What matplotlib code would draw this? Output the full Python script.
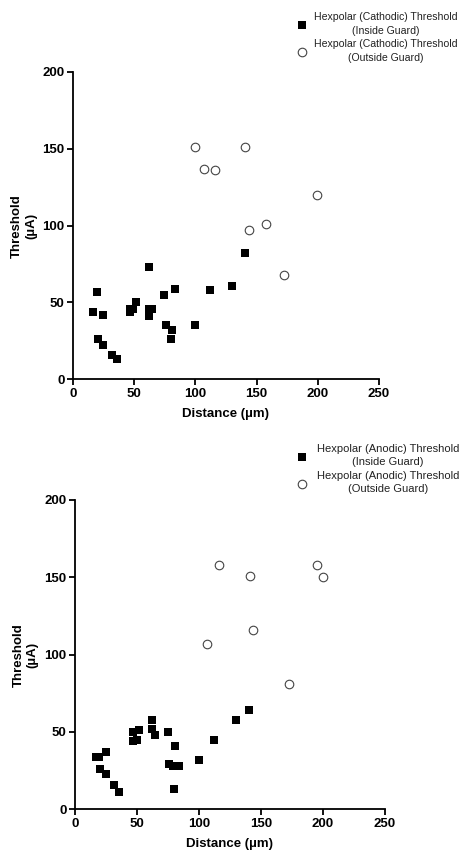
import numpy as np
import matplotlib.pyplot as plt

plt.rcParams['font.family'] = ['Liberation Sans', 'DejaVu Sans']

# cathodic panel data (distance um, threshold uA)
cath_in_x = [16.6, 19.6, 20.7, 24.8, 24.8, 31.9, 35.7, 46.8, 46.8, 49.3, 51.7, 61.8,
             61.8, 61.8, 64.5, 74.6, 75.7, 79.8, 80.9, 83.6, 99.7, 111.7, 129.6, 140.8]
cath_in_y = [44, 57, 26, 42, 22, 16, 13, 46, 44, 46, 50, 73,
             46, 41, 46, 55, 35, 26, 32, 59, 35, 58, 61, 82]
cath_out_x = [100, 106.8, 115.8, 140.8, 199.6, 143.8, 157.8, 172.6]
cath_out_y = [151, 137, 136, 151, 120, 97, 101, 68]

# anodic panel data
anod_in_x = [16.9, 19.6, 20.7, 25.0, 25.0, 31.7, 35.7, 46.7, 46.7, 49.9, 51.8, 62.0,
             62.0, 64.7, 74.9, 76.0, 79.5, 84.0, 80.8, 79.8, 99.9, 112.0, 130.0, 140.7]
anod_in_y = [34, 34, 26, 37, 23, 16, 11, 50, 44, 45, 51, 58,
             52, 48, 50, 29, 28, 28, 41, 13, 32, 45, 58, 64]
anod_out_x = [116.0, 141.0, 195.0, 199.8, 143.9, 106.9, 172.9]
anod_out_y = [158, 151, 158, 150, 116, 107, 81]

x_ticks = [0, 50, 100, 150, 200, 250]
y_ticks = [0, 50, 100, 150, 200]

fig = plt.figure(figsize=(4.67, 8.5), dpi=100)


def make_panel(rect, in_x, in_y, out_x, out_y, mode, leg_anchor, fs, pad):
    ax = fig.add_axes(rect)
    ax.scatter(in_x, in_y, marker='s', s=40, c='black', linewidths=0, zorder=3,
               label='Hexpolar (%s) Threshold\n(Inside Guard)' % mode)
    ax.scatter(out_x, out_y, marker='o', s=38, facecolors='white', edgecolors='#444444',
               linewidths=0.8, zorder=3,
               label='Hexpolar (%s) Threshold\n(Outside Guard)' % mode)
    ax.set_xlim(0, 250)
    ax.set_ylim(0, 200)
    ax.set_xticks(x_ticks)
    ax.set_yticks(y_ticks)
    for s in ['top', 'right']:
        ax.spines[s].set_visible(False)
    for s in ['left', 'bottom']:
        ax.spines[s].set_linewidth(1.3)
    ax.tick_params(width=1.3, length=4, labelsize=9.5, pad=2)
    for lab in ax.get_xticklabels() + ax.get_yticklabels():
        lab.set_fontweight('bold')
    ax.set_xlabel('Distance (\u00b5m)', fontsize=9.5, fontweight='bold', labelpad=6)
    ax.set_ylabel('Threshold\n(\u00b5A)', fontsize=9.5, fontweight='bold', labelpad=4)
    leg = ax.legend(loc='upper right', bbox_to_anchor=leg_anchor, bbox_transform=fig.transFigure,
                    frameon=False, fontsize=fs, handletextpad=pad, labelspacing=0.3,
                    borderaxespad=0, scatterpoints=1, handlelength=1.5)
    for t in leg.get_texts():
        t.set_multialignment('center')
        t.set_linespacing(1.45)
        t.set_color('#222222')
    return ax


make_panel([0.1563, 0.5538, 0.6552, 0.3615], cath_in_x, cath_in_y, cath_out_x, cath_out_y,
           'Cathodic', (0.988, 0.9905), 7.6, 0.4)
make_panel([0.16, 0.0479, 0.6645, 0.3639], anod_in_x, anod_in_y, anod_out_x, anod_out_y,
           'Anodic', (0.993, 0.483), 8.0, 0.6)

plt.savefig('out.png', dpi=100)
